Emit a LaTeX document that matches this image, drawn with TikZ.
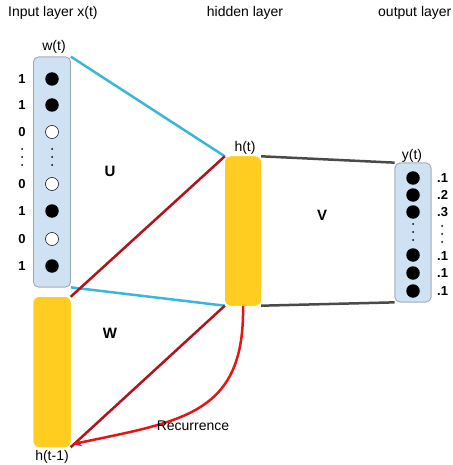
\documentclass[tikz,border=0pt]{standalone}
\usepackage{fontspec}
\setmainfont{Liberation Sans}
\usetikzlibrary{arrows.meta}
\definecolor{boxblue}{HTML}{CFE2F3}
\definecolor{boxedge}{HTML}{9AA6B2}
\definecolor{hidyel}{HTML}{FFCC1F}
\definecolor{cyanln}{HTML}{3AB7D8}
\definecolor{darkred}{HTML}{B0131C}
\definecolor{grayln}{HTML}{4A4A4A}
\definecolor{recred}{HTML}{E41515}
\tikzset{
  vecbox/.style={draw=boxedge, fill=boxblue, rounded corners=5pt, line width=0.7pt, inner sep=0pt},
  yelbox/.style={draw=none, fill=hidyel, rounded corners=6pt, inner sep=0pt},
  oncirc/.style={circle, fill=black, minimum size=13.5pt, inner sep=0pt},
  offcirc/.style={circle, draw=black, line width=0.5pt, fill=white, minimum size=13pt, inner sep=0pt},
  vdot/.style={circle, fill=black, minimum size=2pt, inner sep=0pt},
  lbl/.style={font=\fontsize{14}{16}\selectfont, inner sep=0pt},
  num/.style={font=\fontsize{13}{15}\selectfont\bfseries, inner sep=0pt},
  mat/.style={font=\fontsize{15}{17}\selectfont\bfseries, inner sep=0pt},
  cyanline/.style={cyanln, line width=2.5pt},
  redline/.style={darkred, line width=2.5pt},
  grayline/.style={grayln, line width=2.5pt},
}
\begin{document}
\begin{tikzpicture}[x=1pt,y=-1pt]
\useasboundingbox (0,0) rectangle (452,465);
% boxes
\node[vecbox, minimum width=37pt, minimum height=230pt] (in) at (52,172) {};
\node[yelbox, minimum width=37pt, minimum height=150pt] (prev) at (52,372) {};
\node[yelbox, minimum width=36pt, minimum height=149pt] (hid) at (243,231) {};
\node[vecbox, minimum width=36pt, minimum height=139pt] (out) at (413,232.5) {};
% connections
\draw[cyanline] (in.north east) -- (hid.north west);
\draw[cyanline] (in.south east) -- (hid.south west);
\draw[redline] (prev.north east) -- (hid.north west);
\draw[redline] (hid.south west) -- (prev.south east);
\draw[grayline] (hid.north east) -- (out.north west);
\draw[grayline] (hid.south east) -- (out.south west);
\draw[recred, line width=2.5pt, -{Stealth[length=9pt,width=8pt]}] (hid.south) .. controls (245,415) and (182,421) .. ([xshift=2pt,yshift=3pt]prev.south east);
% redraw boxes on top of line ends
\node[vecbox, minimum width=37pt, minimum height=230pt] at (52,172) {};
\node[yelbox, minimum width=37pt, minimum height=150pt] at (52,372) {};
\node[yelbox, minimum width=36pt, minimum height=149pt] at (243,231) {};
\node[vecbox, minimum width=36pt, minimum height=139pt] at (413,232.5) {};
% input units
\node[oncirc] (i1) at (52,79) {};
\node[oncirc] (i2) at (52,105) {};
\node[offcirc] (i3) at (52,132) {};
\node[vdot] (id1) at (52,149) {};
\node[vdot] (id2) at (52,157) {};
\node[vdot] (id3) at (52,165) {};
\node[offcirc] (i4) at (52,184) {};
\node[oncirc] (i5) at (52,211) {};
\node[offcirc] (i6) at (52,239) {};
\node[oncirc] (i7) at (52,266) {};
\node[num] (n1) at (22,79) {1};
\node[num] (n2) at (22,105) {1};
\node[num] (n3) at (22,132) {0};
\node[vdot] (nd1) at (22,149) {};
\node[vdot] (nd2) at (22,157) {};
\node[vdot] (nd3) at (22,165) {};
\node[num] (n4) at (22,184) {0};
\node[num] (n5) at (22,211) {1};
\node[num] (n6) at (22,239) {0};
\node[num] (n7) at (22,266) {1};
% output units
\node[oncirc] (o1) at (413,178) {};
\node[oncirc] (o2) at (413,195) {};
\node[oncirc] (o3) at (413,212) {};
\node[vdot] (od1) at (413,224) {};
\node[vdot] (od2) at (413,232) {};
\node[vdot] (od3) at (413,240) {};
\node[oncirc] (o4) at (413,255) {};
\node[oncirc] (o5) at (413,273) {};
\node[oncirc] (o6) at (413,291) {};
\node[num, anchor=west] (p1) at (437,178) {.1};
\node[num, anchor=west] (p2) at (437,195) {.2};
\node[num, anchor=west] (p3) at (437,212) {.3};
\node[vdot] (pd1) at (442,226) {};
\node[vdot] (pd2) at (442,234) {};
\node[vdot] (pd3) at (442,242) {};
\node[num, anchor=west] (p4) at (437,256) {.1};
\node[num, anchor=west] (p5) at (437,273) {.1};
\node[num, anchor=west] (p6) at (437,291) {.1};
% labels
\node[lbl, anchor=west] (tin) at (8,13) {Input layer x(t)};
\node[lbl] (thid) at (245,13) {hidden layer};
\node[lbl, anchor=west] (tout) at (378,13) {output layer};
\node[lbl] (tw) at (54,47) {w(t)};
\node[lbl] (th) at (245,148) {h(t)};
\node[lbl] (ty) at (412,156) {y(t)};
\node[lbl] (thp) at (52,457) {h(t-1)};
\node[lbl] (trec) at (193,426) {Recurrence};
\node[mat] (mU) at (110,171) {U};
\node[mat] (mV) at (322,215) {V};
\node[mat] (mW) at (110,333) {W};
\end{tikzpicture}
\end{document}
